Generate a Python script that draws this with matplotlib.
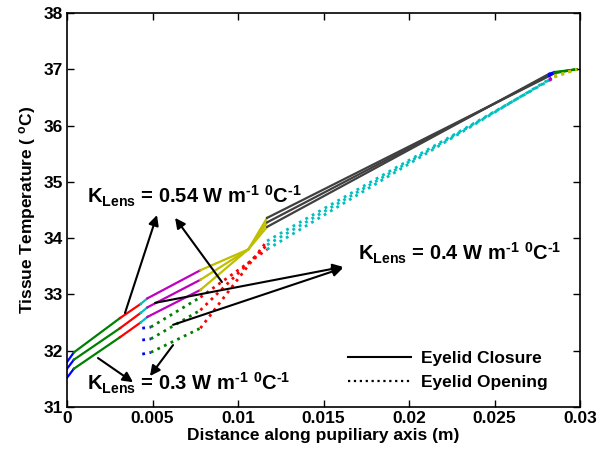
import numpy as np
import matplotlib
matplotlib.use("Agg")
import matplotlib.pyplot as plt

plt.rcParams['font.family'] = ['Liberation Sans', 'DejaVu Sans']
plt.rcParams['font.weight'] = 'bold'
plt.rcParams['mathtext.default'] = 'regular'

# MATLAB (old) default colour order
mcol = {'b': (0, 0, 1), 'g': (0, 0.5, 0), 'r': (1, 0, 0), 'c': (0, 0.75, 0.75),
        'm': (0.75, 0, 0.75), 'y': (0.75, 0.75, 0), 'k': (0.25, 0.25, 0.25)}

# eyelid closure (solid), three lens conductivities
x_close = [0, 0.0004, 0.0031, 0.0043, 0.0047, 0.0078, 0.0106, 0.0117, 0.0282, 0.0285, 0.0298]
T_close_054 = [31.80, 31.97, 32.58, 32.83, 32.93, 33.43, 33.80, 34.20, 36.92, 36.95, 37.0]
T_close_040 = [31.68, 31.84, 32.40, 32.67, 32.77, 33.26, 33.80, 34.28, 36.90, 36.94, 37.0]
T_close_030 = [31.52, 31.68, 32.24, 32.50, 32.60, 33.08, 33.80, 34.36, 36.88, 36.93, 37.0]
col_close = ['b', 'g', 'r', 'c', 'm', 'y', 'y', 'k', 'b', 'g']

# eyelid opening (dotted)
x_open = [0.0044, 0.0049, 0.0078, 0.0117, 0.0282, 0.0285, 0.0298]
T_open_054 = [32.40, 32.42, 32.95, 33.80, 36.82, 36.88, 37.0]
T_open_040 = [32.19, 32.21, 32.72, 33.88, 36.81, 36.87, 37.0]
T_open_030 = [31.94, 31.97, 32.40, 33.95, 36.80, 36.86, 37.0]
col_open = ['b', 'g', 'r', 'c', 'm', 'y']

fig = plt.figure(figsize=(6.06, 4.59), dpi=100)
ax = fig.add_axes([0.1106, 0.1133, 0.8465, 0.8584])

for T in (T_close_054, T_close_040, T_close_030):
    for i in range(len(col_close)):
        ax.plot(x_close[i:i+2], T[i:i+2], '-', color=mcol[col_close[i]], lw=1.6)
for T in (T_open_054, T_open_040, T_open_030):
    for i in range(len(col_open)):
        ax.plot(x_open[i:i+2], T[i:i+2], ':', color=mcol[col_open[i]], lw=2.0)

# labels with arrows
fs = 14.5
hy = '\u2010'
lab = r'K$_{Lens}$ = %s W m$^{' + hy + r'1}$ $^{0}$C$^{' + hy + r'1}$'
ax.text(0.00117, 34.61, lab % '0.54', fontsize=fs, fontweight='bold', va='baseline')
ax.text(0.01702, 33.61, lab % '0.4', fontsize=fs, fontweight='bold', va='baseline')
ax.text(0.00115, 31.30, lab % '0.3', fontsize=fs, fontweight='bold', va='baseline')

arrows = [((0.00339, 32.67), (0.00526, 34.41)),
          ((0.00906, 33.22), (0.00632, 34.36)),
          ((0.00515, 32.85), (0.01614, 33.49)),
          ((0.0062, 32.46), (0.01614, 33.47)),
          ((0.00181, 31.87), (0.00386, 31.44)),
          ((0.0062, 32.10), (0.00485, 31.55))]
for tail, head in arrows:
    ax.annotate('', xy=head, xytext=tail,
                arrowprops=dict(arrowstyle='-|>', color='k', lw=1.5,
                                mutation_scale=15, shrinkA=0, shrinkB=0))

ax.plot([], [], '-', color='k', lw=1.5, label='Eyelid Closure')
ax.plot([], [], ':', color='k', lw=1.6, label='Eyelid Opening')
ax.legend(loc='upper left', bbox_to_anchor=(0.548, 0.143), frameon=False,
          fontsize=12.5, handlelength=3.6, handletextpad=0.6, labelspacing=0.5,
          borderpad=0, borderaxespad=0)

ax.set_xlim(0, 0.03)
ax.set_ylim(31, 38)
ax.set_xticks([0, 0.005, 0.01, 0.015, 0.02, 0.025, 0.03])
ax.set_xticklabels(['0', '0.005', '0.01', '0.015', '0.02', '0.025', '0.03'])
ax.set_yticks(range(31, 39))
ax.tick_params(direction='in', top=True, right=True, length=5, width=1,
               labelsize=12.5, pad=3)
for s in ax.spines.values():
    s.set_linewidth(1.2)
ax.set_xlabel('Distance along pupiliary axis (m)', fontsize=12.5, fontweight='bold', labelpad=1)
ax.set_ylabel(r'Tissue Temperature ( $^{o}$C)', fontsize=12.5, fontweight='bold', labelpad=4)

fig.savefig('out.png', dpi=100)
